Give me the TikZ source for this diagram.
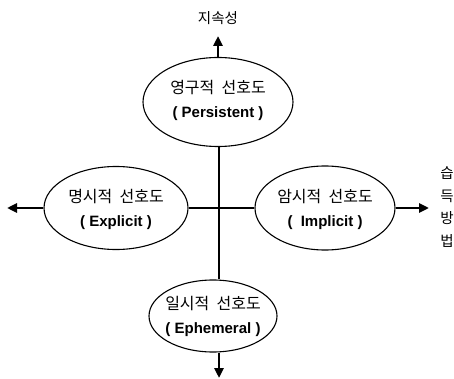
\documentclass[tikz,border=0pt]{standalone}
\usepackage{fontspec}
\newfontfamily\krfont{Noto Sans CJK KR}
\newfontfamily\enfont{Liberation Sans}
\usetikzlibrary{shapes.geometric,arrows.meta}
\begin{document}
\begin{tikzpicture}[x=1pt,y=-1pt,
  ell/.style={draw, ellipse, line width=1.1pt, inner sep=0pt},
  txt/.style={align=center, font=\fontsize{15}{24}\selectfont},
  axis/.style={line width=2.6pt},
  arr/.style={line width=2.6pt, -{Triangle[length=10pt,width=9pt]}},
  lbl/.style={font=\krfont\fontsize{14.5}{16}\selectfont}
]
\useasboundingbox (0,0) rectangle (454,379);
% ellipses
\node[ell, minimum width=150pt, minimum height=89pt] (top) at (218,102) {};
\node[ell, minimum width=144pt, minimum height=83pt] (left) at (116,208) {};
\node[ell, minimum width=140pt, minimum height=84pt] (right) at (325,208) {};
\node[ell, minimum width=128pt, minimum height=72pt] (bot) at (213,316) {};
% texts
\node[txt] (topt) at ([yshift=2pt]top.center) {{\krfont\fontsize{16}{24}\selectfont 영구적\ \ 선호도}\\{\enfont\bfseries ( Persistent )}};
\node[txt] (leftt) at ([yshift=-1pt]left.center) {{\krfont\fontsize{16}{24}\selectfont 명시적\ \ 선호도}\\{\enfont\bfseries ( Explicit )}};
\node[txt] (rightt) at ([yshift=-1pt]right.center) {{\krfont\fontsize{16}{24}\selectfont 암시적\ \ 선호도}\\{\enfont\bfseries (\ \ Implicit )}};
\node[txt] (bott) at (bot) {{\krfont\fontsize{16}{24}\selectfont 일시적\ \ 선호도}\\{\enfont\bfseries ( Ephemeral )}};
% cross
\coordinate (c) at (219,208);
\draw[axis] (left.east) -- (right.west);
\draw[axis] (c |- top.south) -- (c |- bot.north);
% arrows
\coordinate (upend) at (218,36);
\coordinate (downend) at (219,378);
\coordinate (leftend) at (7,208);
\coordinate (rightend) at (429,208);
\draw[arr] (top.north) -- (upend);
\draw[arr] (c |- bot.south) -- (downend);
\draw[arr] (left.west) -- (leftend);
\draw[arr] (right.east) -- (rightend);
% axis labels
\node[lbl] (ytitle) at (218,18) {지속성};
\node[lbl, align=center, font=\krfont\fontsize{14.5}{22.5}\selectfont] (xtitle) at (447,207) {습\\득\\방\\법};
\end{tikzpicture}
\end{document}
